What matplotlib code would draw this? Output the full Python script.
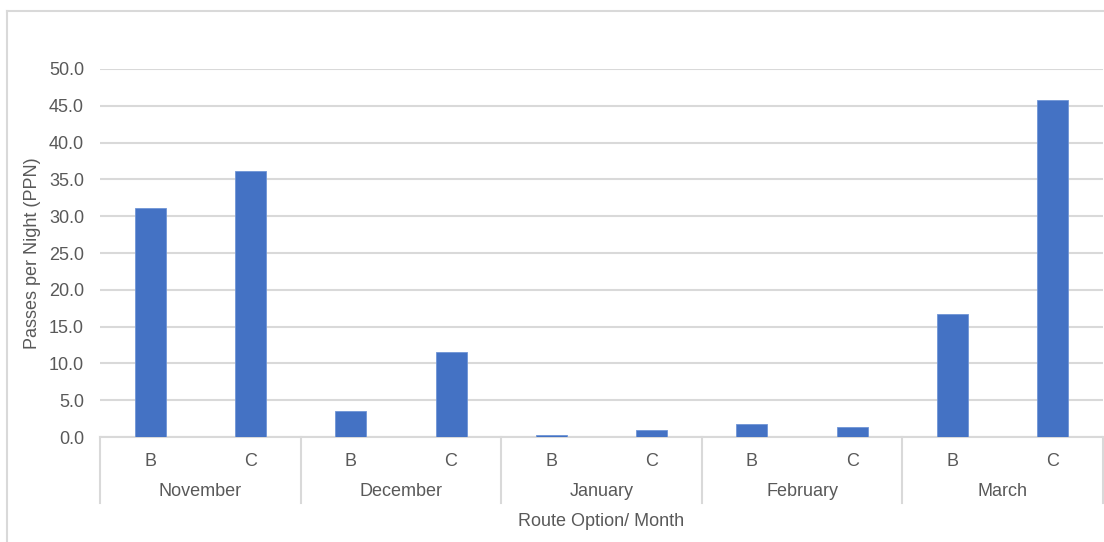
import matplotlib
matplotlib.use("Agg")
import matplotlib.pyplot as plt
from matplotlib.lines import Line2D
import matplotlib.transforms as mtransforms
import numpy as np

months = ["November", "December", "January", "February", "March"]
routes = ["B", "C"]
values = [31.1, 36.2, 3.6, 11.6, 0.3, 0.95, 1.8, 1.4, 16.7, 45.75]
y_ticks = [0, 5, 10, 15, 20, 25, 30, 35, 40, 45, 50]
y_label = "Passes per Night (PPN)"
x_label = "Route Option/ Month"

W, H = 1104, 542
plt.rcParams['font.family'] = ['Liberation Sans', 'DejaVu Sans']
TXT = "#595959"
GRID = "#d9d9d9"

fig = plt.figure(figsize=(W / 100, H / 100), dpi=100)
ax_left, ax_right, ax_top, ax_bottom = 100, 1103, 69, 437
ax = fig.add_axes([ax_left / W, (H - ax_bottom) / H, (ax_right - ax_left) / W, (ax_bottom - ax_top) / H])

n = len(values)
x = np.arange(n)
ax.bar(x, values, width=0.31, color="#4472C4", edgecolor="#6f95d6", linewidth=0.6, zorder=5)
ax.set_xlim(-0.5, n - 0.5)
ax.set_ylim(0, 50)
ax.set_yticks(y_ticks)
ax.set_yticklabels([f"{v:.1f}" for v in y_ticks], color=TXT, fontsize=13)
ax.tick_params(axis='y', length=0, pad=11.5)
ax.set_xticks([])
ax.yaxis.grid(True, color=GRID, linewidth=1.5, zorder=0)
for s in ["top", "right", "left"]:
    ax.spines[s].set_visible(False)
ax.spines["bottom"].set_color(GRID)
ax.spines["bottom"].set_linewidth(1.5)
ax.spines["bottom"].set_zorder(4)

ax.set_ylabel(y_label, color=TXT, fontsize=13, labelpad=6)

trans = mtransforms.blended_transform_factory(ax.transData, fig.transFigure)
def fy(px):
    return (H - px) / H

# route labels
for i in range(n):
    ax.text(x[i], fy(461), routes[i % 2], transform=trans, ha="center", va="center",
            color=TXT, fontsize=13)
# month labels
for j, m in enumerate(months):
    ax.text(2 * j + 0.5, fy(492), m, transform=trans, ha="center", va="center",
            color=TXT, fontsize=13)
# separators
for b in np.arange(-0.5, n, 2):
    ax.add_line(Line2D([b, b], [fy(437), fy(503)], transform=trans, color=GRID,
                       linewidth=1.5, clip_on=False))

fig.text((ax_left + ax_right) / 2 / W, fy(521), x_label, ha="center", va="center",
         color=TXT, fontsize=13)

# outer chart border (left and top visible)
fig.add_artist(Line2D([6.5 / W, 6.5 / W], [0, fy(10.5)], color=GRID, linewidth=1.5))
fig.add_artist(Line2D([6.5 / W, 1], [fy(10.5), fy(10.5)], color=GRID, linewidth=1.5))

fig.savefig("out.png", dpi=100, facecolor="white")
